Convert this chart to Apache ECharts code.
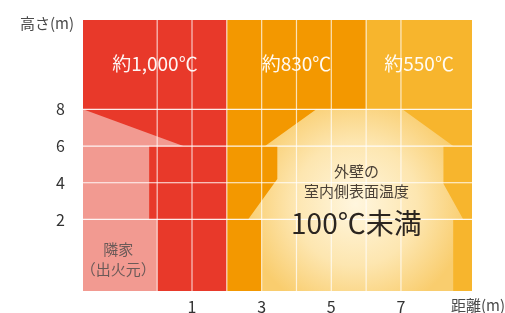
<!DOCTYPE html>
<html>
<head>
<meta charset="utf-8">
<script src="https://cdn.jsdelivr.net/npm/echarts@6/dist/echarts.min.js"></script>
<style>
  html, body { margin: 0; padding: 0; background: #fff; }
  #chart { width: 505px; height: 313px; }
</style>
</head>
<body>
<div id="chart"></div>
<script>
const X_MIN = -2.13, X_MAX = 9.04
const Y_MIN = -1.9, Y_MAX = 12.87

// temperature bands along distance (m)
const bandFrom = [X_MIN, 2, 6]
const bandTo = [2, 6, X_MAX]
const bandTemps = ['約1,000℃', '約830℃', '約550℃']
const bandLabelY = 10.5

const xTicks = [1, 3, 5, 7]
const yTicks = [2, 4, 6, 8]
const gridXs = [0, 1, 2, 3, 4, 5, 6, 7]
const gridYs = [2, 4, 6, 8]
const xName = '距離(m)'
const yName = '高さ(m)'

// 隣家 (出火元) outline, in metres
const neighborX = [X_MIN, 0.75, -0.23, -0.23, 0, 0, X_MIN]
const neighborY = [8, 6, 6, 2, 2, Y_MIN, Y_MIN]

// 延焼を受ける家 outline, in metres
const houseX = [3, 3, 2.61, 3.45, 3.45, 3.1, 4.57, 7.04, 8.5, 8.22, 8.22, 8.79, 8.5, 8.5]
const houseY = [Y_MIN, 2, 2, 4.2, 6, 6, 8, 8, 6, 6, 3.95, 2, 2, Y_MIN]

// notes
const noteText = ['隣家', '（出火元）', '外壁の', '室内側表面温度', '100℃未満']
const noteX = [-1.12, -1.12, 5.72, 5.72, 5.72]
const noteY = [0.4, -0.7, 4.64, 3.52, 1.8]

const FONT = '"Noto Sans CJK JP", "Noto Sans", sans-serif'
const BAND_COLORS = ['#e8392a', '#f39800', '#f7b52d']
const NOTE_STYLE = [
  { size: 15, color: '#6b5a58' },
  { size: 15, color: '#6b5a58' },
  { size: 15, color: '#4a4036' },
  { size: 15, color: '#4a4036' },
  { size: 28, color: '#2b2520' },
]
const GRID = { left: 83, right: 33, top: 20, bottom: 22 }

const chart = echarts.init(document.getElementById('chart'), null, { renderer: 'canvas' })

const polygon = (xs, ys, fill) => ({
  type: 'custom',
  data: [[0, 0]],
  silent: true,
  renderItem: (params, api) => ({
    type: 'polygon',
    shape: { points: xs.map((x, i) => api.coord([x, ys[i]])) },
    style: { fill },
  }),
})

const nameStyle = { fill: '#4a4a4a', fontSize: 15, fontFamily: FONT, letterSpacing: 1.8 }

const option = {
  animation: false,
  grid: { ...GRID, outerBoundsMode: 'none' },
  // axis titles sit outside the plot corners
  graphic: [
    { type: 'text', x: GRID.left - 9, y: GRID.top + 3, style: { ...nameStyle, text: yName, align: 'right', verticalAlign: 'middle' } },
    { type: 'text', x: 505, y: 313 - GRID.bottom + 14, style: { ...nameStyle, text: xName, align: 'right', verticalAlign: 'middle' } },
  ],
  xAxis: {
    type: 'value',
    min: X_MIN, max: X_MAX,
    axisLine: { show: false },
    axisTick: { show: false },
    splitLine: { show: false },
    axisLabel: { customValues: xTicks, color: '#333', fontSize: 16, fontFamily: FONT, margin: 8 },
  },
  yAxis: {
    type: 'value',
    min: Y_MIN, max: Y_MAX,
    axisLine: { show: false },
    axisTick: { show: false },
    splitLine: { show: false },
    axisLabel: { customValues: yTicks, color: '#333', fontSize: 16, fontFamily: FONT, margin: 18 },
  },
  series: [
    {
      type: 'custom',
      silent: true,
      data: bandFrom.map((f, i) => [f, bandTo[i]]),
      renderItem: (params, api) => {
        const p0 = api.coord([api.value(0), Y_MAX])
        const p1 = api.coord([api.value(1), Y_MIN])
        return {
          type: 'rect',
          shape: { x: p0[0], y: p0[1], width: p1[0] - p0[0], height: p1[1] - p0[1] },
          style: { fill: BAND_COLORS[params.dataIndex] },
        }
      },
    },
    polygon(neighborX, neighborY, '#f29a91'),
    polygon(houseX, houseY, new echarts.graphic.RadialGradient(0.5, 0.52, 0.62, [
      { offset: 0, color: '#fff6de' },
      { offset: 0.55, color: '#fde6b0' },
      { offset: 1, color: '#f9cd6e' },
    ])),
    {
      type: 'custom',
      silent: true,
      data: gridXs.map(x => [x]),
      renderItem: (params, api) => {
        const a = api.coord([api.value(0), Y_MAX])
        const b = api.coord([api.value(0), Y_MIN])
        return {
          type: 'line',
          shape: { x1: a[0], y1: a[1], x2: b[0], y2: b[1] },
          style: { stroke: 'rgba(255,255,255,0.72)', lineWidth: 1.2 },
        }
      },
    },
    {
      type: 'custom',
      silent: true,
      data: gridYs.map(y => [0, y]),
      renderItem: (params, api) => {
        const a = api.coord([X_MIN, api.value(1)])
        const b = api.coord([X_MAX, api.value(1)])
        return {
          type: 'line',
          shape: { x1: a[0], y1: a[1], x2: b[0], y2: b[1] },
          style: { stroke: 'rgba(255,255,255,0.9)', lineWidth: 1.2 },
        }
      },
    },
    {
      type: 'custom',
      silent: true,
      data: bandFrom.map((f, i) => [(f + bandTo[i]) / 2, bandLabelY]),
      renderItem: (params, api) => {
        const p = api.coord([api.value(0), api.value(1)])
        return {
          type: 'text',
          x: p[0], y: p[1],
          style: {
            text: bandTemps[params.dataIndex],
            fill: 'rgba(255,255,255,0.95)',
            fontSize: 19, fontFamily: FONT,
            align: 'center', verticalAlign: 'middle',
          },
        }
      },
    },
    {
      type: 'custom',
      silent: true,
      data: noteX.map((x, i) => [x, noteY[i]]),
      renderItem: (params, api) => {
        const p = api.coord([api.value(0), api.value(1)])
        const s = NOTE_STYLE[params.dataIndex]
        return {
          type: 'text',
          x: p[0], y: p[1],
          style: {
            text: noteText[params.dataIndex],
            fill: s.color,
            fontSize: s.size, fontFamily: FONT,
            align: 'center', verticalAlign: 'middle',
          },
        }
      },
    },
  ],
}

chart.setOption(option)
</script>
</body>
</html>
